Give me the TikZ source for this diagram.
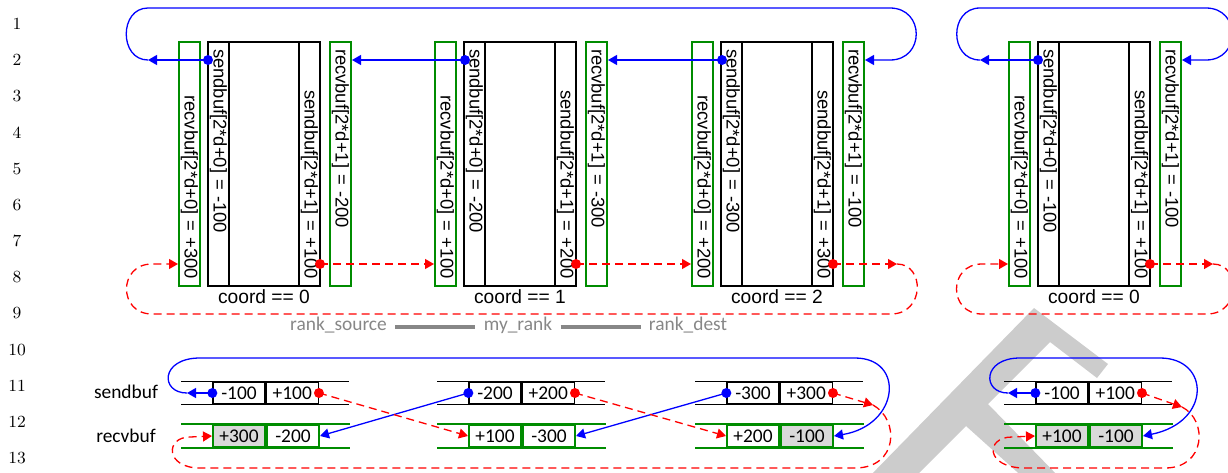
\documentclass[tikz,border=0pt]{standalone}
\usepackage{fontspec}
\newfontfamily\boxfont{Liberation Sans}
\newfontfamily\cellfont{Carlito}
\usetikzlibrary{arrows.meta,positioning,calc}
\definecolor{bufgreen}{RGB}{0,140,0}
\definecolor{cellgray}{RGB}{217,217,217}
\definecolor{rankgray}{RGB}{135,135,135}
\definecolor{markgray}{RGB}{204,204,204}

\begin{document}
\begin{tikzpicture}[
    x=0.5pt, y=-0.5pt,
    strip/.style={rotate=-90, minimum height=10.5pt, text width=115pt,
        inner xsep=3.5pt, inner ysep=0pt, font=\boxfont\fontsize{9.2}{10}\selectfont},
    recvstrip/.style={strip, draw=bufgreen, line width=1pt},
    sendstrip/.style={strip, draw=black, line width=0.65pt},
    bufbox/.style={draw, line width=0.65pt, minimum width=56pt, minimum height=122pt, inner sep=0pt},
    coordlabel/.style={font=\boxfont\fontsize{9.6}{11}\selectfont, inner sep=0pt},
    cell/.style={minimum width=26pt, minimum height=11pt, inner sep=0pt,
        font=\cellfont\fontsize{9.7}{11}\selectfont},
    sendcell/.style={cell, draw=black, line width=0.65pt},
    recvcell/.style={cell, draw=bufgreen, line width=1pt},
    grayed/.style={fill=cellgray},
    rowlabel/.style={font=\cellfont\fontsize{9.7}{11}\selectfont, inner sep=0pt},
    sendline/.style={black, line width=0.65pt},
    recvline/.style={bufgreen, line width=1pt},
    toleft/.style={blue, line width=0.65pt, -{Triangle[length=4.5pt,width=5pt]}},
    toright/.style={red, line width=0.65pt, dash pattern=on 4pt off 2.5pt,
        -{Triangle[length=4.5pt,width=5pt]}},
    bdot/.style={circle, fill=blue, minimum size=5pt, inner sep=0pt},
    rdot/.style={circle, fill=red, minimum size=5pt, inner sep=0pt},
    rank/.style={font=\cellfont\fontsize{9.7}{11}\selectfont, text=rankgray, inner sep=4pt},
    rankline/.style={rankgray, line width=2pt},
    lineno/.style={font=\fontsize{8.5}{10}\selectfont}
]
\useasboundingbox (0,0) rectangle (1228,472);
\clip (0,0) rectangle (1228,472);

\fill[markgray] (1034,308) -- (1108,364) -- (1097,378) -- (1050,342) -- (988,404)
    -- (1062,480) -- (1026,480) -- (966,426) -- (912,480) -- (866,480) -- cycle;

\foreach \n in {1,...,13}
    \node[lineno] (ln\n) at (17,{24+(\n-1)*36.17}) {\n};

\node[recvstrip, align=right] (recvL1) at (189.5,164) {recvbuf[2*d+0] = +300};
\node[bufbox] (buf1) at (264,164) {};
\node[sendstrip, align=left] (sendL1) at (218.5,164) {sendbuf[2*d+0] = -100};
\node[sendstrip, align=right] (sendR1) at (309.5,164) {sendbuf[2*d+1] = +100};
\node[recvstrip, align=left] (recvR1) at (340.5,164) {recvbuf[2*d+1] = -200};
\node[coordlabel] (crd1) at (264,297) {coord == 0};

\node[recvstrip, align=right] (recvL2) at (445.5,164) {recvbuf[2*d+0] = +100};
\node[bufbox] (buf2) at (520,164) {};
\node[sendstrip, align=left] (sendL2) at (474.5,164) {sendbuf[2*d+0] = -200};
\node[sendstrip, align=right] (sendR2) at (565.5,164) {sendbuf[2*d+1] = +200};
\node[recvstrip, align=left] (recvR2) at (596.5,164) {recvbuf[2*d+1] = -300};
\node[coordlabel] (crd2) at (520,297) {coord == 1};

\node[recvstrip, align=right] (recvL3) at (702.5,164) {recvbuf[2*d+0] = +200};
\node[bufbox] (buf3) at (777,164) {};
\node[sendstrip, align=left] (sendL3) at (731.5,164) {sendbuf[2*d+0] = -300};
\node[sendstrip, align=right] (sendR3) at (822.5,164) {sendbuf[2*d+1] = +300};
\node[recvstrip, align=left] (recvR3) at (853.5,164) {recvbuf[2*d+1] = -100};
\node[coordlabel] (crd3) at (777,297) {coord == 2};

\node[recvstrip, align=right] (recvL4) at (1019.5,164) {recvbuf[2*d+0] = +100};
\node[bufbox] (buf4) at (1094,164) {};
\node[sendstrip, align=left] (sendL4) at (1048.5,164) {sendbuf[2*d+0] = -100};
\node[sendstrip, align=right] (sendR4) at (1139.5,164) {sendbuf[2*d+1] = +100};
\node[recvstrip, align=left] (recvR4) at (1170.5,164) {recvbuf[2*d+1] = -100};
\node[coordlabel] (crd4) at (1094,297) {coord == 0};

\node[rank] (src) at (338.5,325) {rank\_source};
\node[rank] (me) at (518,325) {my\_rank};
\node[rank] (dst) at (688,325) {rank\_dest};
\draw[rankline] ([yshift=-1pt]src.east) -- ([yshift=-1pt]me.west);
\draw[rankline] ([yshift=-1pt]me.east) -- ([yshift=-1pt]dst.west);

\node[rowlabel] (sendlbl) at (126,392) {sendbuf};
\node[rowlabel] (recvlbl) at (126,436) {recvbuf};

\node[sendcell] (sbufA1) at (239,393) {-100};
\node[sendcell, right=0pt of sbufA1] (sbufB1) {+100};
\node[recvcell, grayed] (rbufA1) at (239,436) {+300};
\node[recvcell, right=0pt of rbufA1] (rbufB1) {-200};

\node[sendcell] (sbufA2) at (495,393) {-200};
\node[sendcell, right=0pt of sbufA2] (sbufB2) {+200};
\node[recvcell] (rbufA2) at (495,436) {+100};
\node[recvcell, right=0pt of rbufA2] (rbufB2) {-300};

\node[sendcell] (sbufA3) at (753,393) {-300};
\node[sendcell, right=0pt of sbufA3] (sbufB3) {+300};
\node[recvcell] (rbufA3) at (753,436) {+200};
\node[recvcell, grayed, right=0pt of rbufA3] (rbufB3) {-100};

\node[sendcell] (sbufA4) at (1062,393) {-100};
\node[sendcell, right=0pt of sbufA4] (sbufB4) {+100};
\node[recvcell, grayed] (rbufA4) at (1062,436) {+100};
\node[recvcell, grayed, right=0pt of rbufA4] (rbufB4) {-100};

\foreach \g in {1,...,4} {
    \draw[sendline] ($(sbufA\g.north west)+(-31,0)$) -- ($(sbufB\g.north east)+(30,0)$);
    \draw[sendline] ($(sbufA\g.south west)+(-31,0)$) -- ($(sbufB\g.south east)+(30,0)$);
    \draw[recvline] ($(rbufA\g.north west)+(-31,0)$) -- ($(rbufB\g.north east)+(30,0)$);
    \draw[recvline] ($(rbufA\g.south west)+(-31,0)$) -- ($(rbufB\g.south east)+(30,0)$);
}

\node[bdot] (bt1) at (208,60) {};
\node[bdot] (bt2) at (465,60) {};
\node[bdot] (bt3) at (722,60) {};
\node[bdot] (bt4) at (1038,60) {};
\node[rdot] (rt1) at (320,264) {};
\node[rdot] (rt2) at (576,264) {};
\node[rdot] (rt3) at (833,264) {};
\node[rdot] (rt4) at (1150,264) {};

\node[bdot] (bb1) at (sbufA1.west) {};
\node[bdot] (bb2) at (sbufA2.west) {};
\node[bdot] (bb3) at (sbufA3.west) {};
\node[bdot] (bb4) at (sbufA4.west) {};
\node[rdot] (rb1) at (sbufB1.east) {};
\node[rdot] (rb2) at (sbufB2.east) {};
\node[rdot] (rb3) at (sbufB3.east) {};
\node[rdot] (rb4) at (sbufB4.east) {};

\coordinate (bend1) at (148,60);
\coordinate (bend4) at (980,60);
\coordinate (rbend3) at (897,264);
\coordinate (rbend4) at (1213,264);
\draw[toleft] (bt1.center) -- (bend1);
\draw[toleft] (bend1) .. controls (119,60) and (119,8) .. (148,8) -- (890,8)
    .. controls (925,8) and (925,60) .. (890,60) -- (bend1 -| recvR3.north);
\draw[toleft] (bt2.center) -- (bt2 -| recvR1.north);
\draw[toleft] (bt3.center) -- (bt3 -| recvR2.north);
\draw[toleft] (bt4.center) -- (bend4);
\draw[toleft] (bend4) .. controls (949,60) and (949,8) .. (980,8) -- (1206,8)
    .. controls (1241,8) and (1241,60) .. (1206,60) -- (bend4 -| recvR4.north);

\draw[toright] (rt1.center) -- (rt1 -| recvL2.south);
\draw[toright] (rt2.center) -- (rt2 -| recvL3.south);
\draw[toright] (rt3.center) -- (rbend3);
\draw[toright] (rbend3) .. controls (925,264) and (925,314) .. (891,314) -- (152,314)
    .. controls (118,314) and (118,264) .. (152,264) -- (rbend3 -| recvL1.south);
\draw[toright] (rt4.center) -- (rbend4);
\draw[toright] (rbend4) .. controls (1241,264) and (1241,314) .. (1207,314) -- (982,314)
    .. controls (948,314) and (948,264) .. (982,264) -- (rbend4 -| recvL4.south);

\coordinate (bbend1) at (187,393);
\coordinate (bbend4) at (1008,393);
\coordinate (rbbend3) at (873,405);
\coordinate (rbbend4) at (1182,407);
\draw[toleft] (bb1.center) -- (bbend1);
\draw[toleft] (bbend1) .. controls (160,393) and (160,358) .. (200,358) -- (855,358)
    .. controls (905,358) and (900,425) .. (rbufB3.east);
\draw[toleft] (bb2.center) -- (rbufB1.east);
\draw[toleft] (bb3.center) -- (rbufB2.east);
\draw[toleft] (bb4.center) -- (bbend4);
\draw[toleft] (bbend4) .. controls (982,393) and (982,358) .. (1020,358) -- (1160,358)
    .. controls (1210,358) and (1212,422) .. (rbufB4.east);

\draw[toright] (rb1.center) -- (rbufA2.west);
\draw[toright] (rb2.center) -- (rbufA3.west);
\draw[toright] (rb3.center) -- (rbbend3);
\draw[toright] (rbbend3) .. controls (900,420) and (898,468) .. (855,468) -- (200,468)
    .. controls (165,468) and (165,437) .. (190,437) -- (rbufA1.west);
\draw[toright] (rb4.center) -- (rbbend4);
\draw[toright] (rbbend4) .. controls (1208,420) and (1206,468) .. (1165,468) -- (1025,468)
    .. controls (985,468) and (985,437) .. (1012,437) -- (rbufA4.west);
\end{tikzpicture}
\end{document}
